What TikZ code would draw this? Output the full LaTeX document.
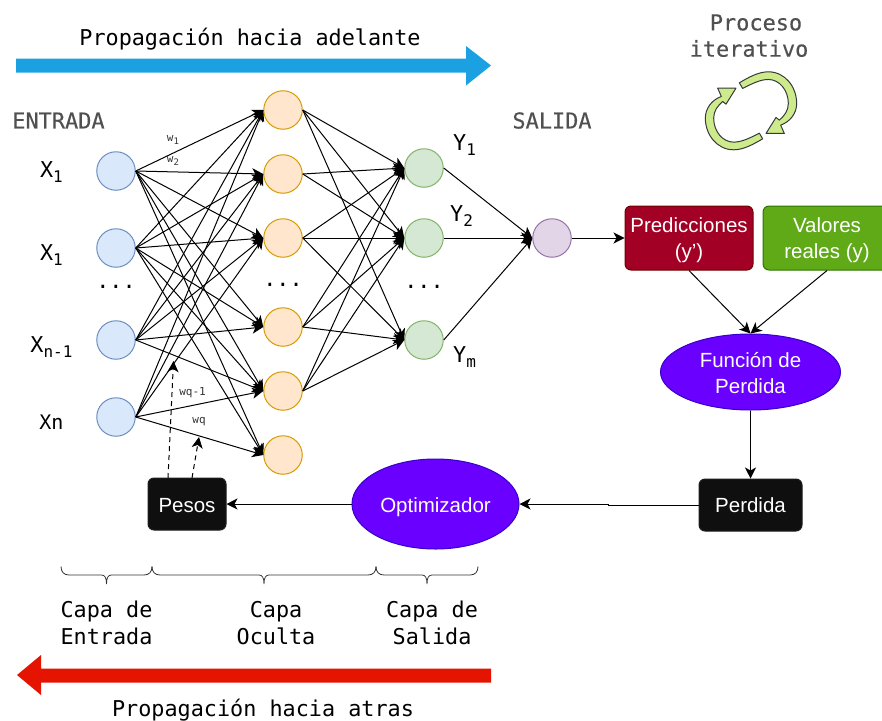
\documentclass[tikz,border=0pt]{standalone}
\usepackage{fontspec}
\setmainfont{Liberation Sans}
\setmonofont{DejaVu Sans Mono}
\newfontfamily\headmono[FakeBold=0.35]{DejaVu Sans Mono}
\usetikzlibrary{arrows.meta,calc,shapes.geometric}
\definecolor{cblue}{HTML}{1BA1E2}
\definecolor{cred}{HTML}{E51400}
\definecolor{gtext}{HTML}{505050}
\definecolor{wtext}{HTML}{333333}
\newcommand{\labsub}[2]{#1\raisebox{-5pt}{\fontsize{16}{16}\selectfont #2}}
\newcommand{\wsub}[2]{#1\raisebox{-2.5pt}{\fontsize{9}{9}\selectfont #2}}
\newcommand{\mybrace}[2]{%
  \draw[bracen] (#1,566.5) .. controls (#1,572) and ({#1+3},575) .. ({#1+8},575)
    -- ({(#1+#2)/2-5},575) .. controls ({(#1+#2)/2-1.5},575) and ({(#1+#2)/2},578) .. ({(#1+#2)/2},584)
    .. controls ({(#1+#2)/2},578) and ({(#1+#2)/2+1.5},575) .. ({(#1+#2)/2+5},575)
    -- ({#2-8},575) .. controls ({#2-3},575) and (#2,572) .. (#2,566.5);}
\tikzset{
  x=1pt,y=-1pt,
  tip/.style={-{Stealth[length=11pt,width=11pt,inset=3pt]}},
  conn/.style={tip,line width=1pt,black},
  dashconn/.style={conn,dash pattern=on 5pt off 4pt},
  neuron/.style={circle,draw,line width=1pt,minimum size=38.5pt,inner sep=0pt},
  inn/.style={neuron,fill={rgb,255:red,218;green,232;blue,252},draw={rgb,255:red,108;green,142;blue,191}},
  hid/.style={neuron,fill={rgb,255:red,255;green,230;blue,204},draw={rgb,255:red,215;green,155;blue,0}},
  outn/.style={neuron,fill={rgb,255:red,213;green,232;blue,212},draw={rgb,255:red,130;green,179;blue,102}},
  finaln/.style={neuron,fill={rgb,255:red,225;green,213;blue,231},draw={rgb,255:red,150;green,115;blue,166}},
  mono/.style={font=\ttfamily\fontsize{21.8}{27}\selectfont,align=center,text=black,inner sep=0pt},
  graymono/.style={font=\headmono\fontsize{21.9}{26}\selectfont,align=center,text=gtext,inner sep=0pt},
  wlab/.style={font=\ttfamily\fontsize{11}{11}\selectfont,text=wtext,inner sep=0pt},
  boxn/.style={rectangle,rounded corners=6pt,line width=1pt,text=white,align=center,inner sep=0pt,font=\fontsize{20.5}{26}\selectfont},
  elln/.style={ellipse,inner sep=0pt,line width=1pt,text=white,align=center,font=\fontsize{20.5}{26}\selectfont,fill={rgb,255:red,106;green,0;blue,255},draw={rgb,255:red,55;green,0;blue,204}},
  bracen/.style={line width=.8pt,draw=black!80},
  cyclearrow/.pic={
    \begin{scope}[x=.3333pt,y=-.3333pt]
    \draw[fill={rgb,255:red,205;green,235;blue,139},draw={rgb,255:red,54;green,57;blue,61},line width=1pt,line join=round]
      (-35,-84) .. controls (-8,-100) and (22,-117) .. (52,-117)
      .. controls (102,-117) and (137,-72) .. (137,-22)
      .. controls (137,8) and (117,33) .. (89,43)
      -- (100,68) -- (45,68) -- (75,20) -- (85,28)
      .. controls (100,15) and (112,0) .. (112,-22)
      .. controls (112,-62) and (85,-94) .. (52,-94)
      .. controls (27,-94) and (0,-80) .. (-25,-67) -- cycle;
    \end{scope}
  }
}
\begin{document}
\begin{tikzpicture}
\useasboundingbox (0,0) rectangle (882,720);
\clip (0,0) rectangle (882,720);
% big arrows
\fill[cblue] (16,58.5) -- (466,58.5) -- (466,46) -- (491,65.5) -- (466,85.5) -- (466,72.5) -- (16,72.5) -- cycle;
\fill[cred] (491,668.5) -- (41,668.5) -- (41,655) -- (17,675) -- (41,695) -- (41,682.5) -- (491,682.5) -- cycle;
\node[mono] (tfwd) at (250,39) {Propagación hacia adelante};
\node[mono] (tbwd) at (263,710) {Propagación hacia atras};
% headings
\node[graymono] (tent) at (58.5,120.5) {ENTRADA};
\node[graymono] (tsal) at (552,120.5) {SALIDA};
\node[graymono] (tpro) at (756,22.5) {Proceso};
\node[graymono] (tite) at (749,48.5) {iterativo};
\pic at (751,110.8) {cyclearrow};
\pic[rotate=180] at (751,110.8) {cyclearrow};
% neurons
\node[inn] (i1) at (116,171) {};
\node[inn] (i2) at (116,248) {};
\node[inn] (i3) at (116,340) {};
\node[inn] (i4) at (116,417) {};
\node[hid] (h1) at (283,110) {};
\node[hid] (h2) at (283,174) {};
\node[hid] (h3) at (283,238) {};
\node[hid] (h4) at (283,327) {};
\node[hid] (h5) at (283,391) {};
\node[hid] (h6) at (283,455) {};
\node[outn] (o1) at (424,168) {};
\node[outn] (o2) at (424,238) {};
\node[outn] (o3) at (424,340) {};
\node[finaln] (f) at (552,238) {};
% boxes
\node[boxn,fill={rgb,255:red,162;green,0;blue,37},draw={rgb,255:red,111;green,0;blue,0},minimum width=128pt,minimum height=64pt] (pred) at (689,238) {\rule{0pt}{20pt}Predicciones\\(y')};
\node[boxn,fill={rgb,255:red,96;green,169;blue,23},draw={rgb,255:red,45;green,118;blue,0},minimum width=128pt,minimum height=64pt] (val) at (827,238) {\rule{0pt}{20pt}Valores\\reales (y)};
\node[elln,minimum width=180pt,minimum height=76pt] (fun) at (750.5,372) {\rule{0pt}{18pt}Función de\\Perdida};
\node[boxn,fill={rgb,255:red,15;green,15;blue,15},draw={rgb,255:red,30;green,30;blue,30},minimum width=103pt,minimum height=52pt] (perd) at (750.5,505) {Perdida};
\node[elln,minimum width=167pt,minimum height=90pt] (opt) at (435.5,504) {\rule{0pt}{21pt}Optimizador};
\node[boxn,fill={rgb,255:red,15;green,15;blue,15},draw={rgb,255:red,30;green,30;blue,30},minimum width=78pt,minimum height=52pt] (pesos) at (187,504) {\rule{0pt}{17pt}Pesos};
% network connectors
\foreach \a/\b in {1/1,1/2,1/3,1/4,1/5,1/6,2/1,2/2,2/3,2/4,2/5,2/6,3/1,3/2,3/3,3/4,3/5,4/1,4/2,4/3,4/5,4/6}{
  \draw[conn] (i\a.east) -- (h\b.west);
}
\foreach \a/\b in {1/1,1/2,1/3,2/1,2/2,3/1,3/2,3/3,4/1,4/2,4/3,5/1,5/2,5/3}{
  \draw[conn] (h\a.east) -- (o\b.west);
}
\foreach \a in {1,2,3}{\draw[conn] (o\a.east) -- (f.west);}
\draw[conn] (f.east) -- (pred.west);
\draw[conn] (pred.south) -- (fun.north);
\draw[conn] (val.south) -- (fun.north);
\draw[conn] (fun.south) -- (perd.north);
\coordinate (jog) at (608,504);
\draw[conn] (perd.west) -| (jog) -- (opt.east);
\draw[conn] (opt.west) -- (pesos.east);
\coordinate (d1s) at (168,478);
\coordinate (d1e) at (173.5,361);
\coordinate (d2s) at (192,478);
\coordinate (d2e) at (199,437);
\draw[dashconn] (d1s) -- (d1e);
\draw[dashconn] (d2s) -- (d2e);
% input and output labels
\node[mono] (lx1) at (51.5,172) {\labsub{X}{1}};
\node[mono] (lx2) at (51.5,255) {\labsub{X}{1}};
\node[mono] (lx3) at (51.5,347) {\labsub{X}{n-1}};
\node[mono,font=\ttfamily\fontsize{20}{20}\selectfont] (lx4) at (51.5,422) {Xn};
\node[mono] (ly1) at (464.5,145) {\labsub{Y}{1}};
\node[mono] (ly2) at (461.5,216) {\labsub{Y}{2}};
\node[mono] (ly3) at (464.5,357) {\labsub{Y}{m}};
\node[mono,anchor=base] (d1) at (116,288.5) {...};
\node[mono,anchor=base] (d2) at (283,286) {...};
\node[mono,anchor=base] (d3) at (424,288.5) {...};
% weights
\node[wlab] (w1) at (173,140) {\wsub{w}{1}};
\node[wlab] (w2) at (173,161) {\wsub{w}{2}};
\node[wlab] (w3) at (192.5,393) {wq-1};
\node[wlab] (w4) at (199,422) {wq};
% braces
\mybrace{61}{152}
\mybrace{152}{376}
\mybrace{376}{478}
\node[mono] (c1) at (106.5,623) {Capa de\\Entrada};
\node[mono] (c2) at (276,623.5) {Capa\\Oculta};
\node[mono] (c3) at (432,623) {Capa de\\Salida};
\end{tikzpicture}
\end{document}
